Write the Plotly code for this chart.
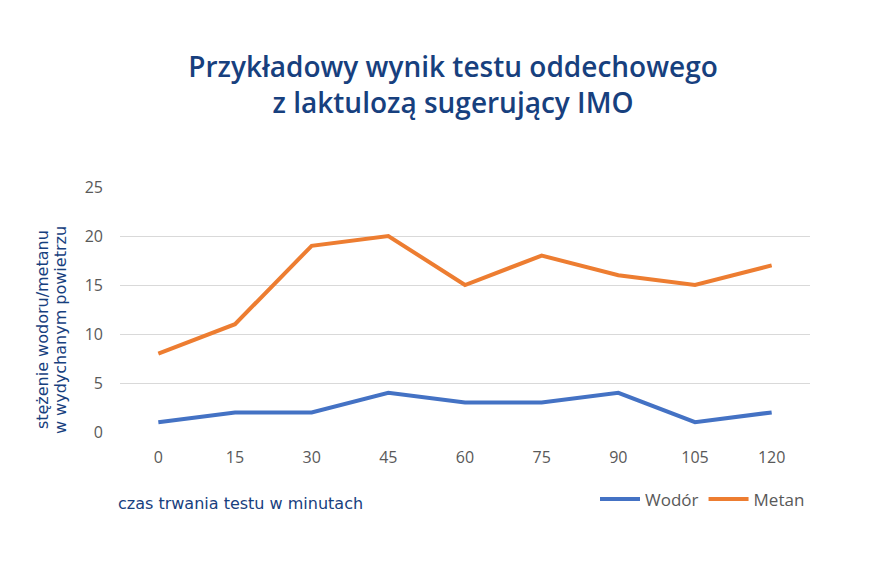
import plotly.graph_objects as go

minutes = [0, 15, 30, 45, 60, 75, 90, 105, 120]
wodor = [1, 2, 2, 4, 3, 3, 4, 1, 2]
metan = [8, 11, 19, 20, 15, 18, 16, 15, 17]
y_ticks = [0, 5, 10, 15, 20, 25]

navy = "#17407e"
fig = go.Figure()
fig.add_trace(go.Scatter(x=minutes, y=wodor, mode="lines", name="Wodór",
                         line=dict(color="#4472C4", width=4)))
fig.add_trace(go.Scatter(x=minutes, y=metan, mode="lines", name="Metan",
                         line=dict(color="#ED7D31", width=4)))

fig.update_layout(
    width=890, height=572,
    paper_bgcolor="white", plot_bgcolor="white",
    margin=dict(l=112, r=88, t=179, b=148, autoexpand=False),
    title=dict(text="Przykładowy wynik testu oddechowego<br>z laktulozą sugerujący IMO",
               x=0.5, xanchor="center", y=0.88, yanchor="top",
               font=dict(family="Open Sans", size=28, color=navy, weight=600)),
    font=dict(family="Open Sans", color="#595959", size=14),
    xaxis=dict(range=[-7.5, 127.5], tickvals=minutes, showgrid=False, zeroline=False,
               showline=False, ticks="", tickfont=dict(color="#595959", size=16),
               ticklabelstandoff=14, automargin=False),
    yaxis=dict(range=[0, 25], tickvals=y_ticks, showgrid=True, gridcolor="#d9d9d9",
               gridwidth=1, zeroline=False, ticks="", ticklabelstandoff=16,
               tickfont=dict(color="#595959", size=16), automargin=False),
    legend=dict(orientation="h", x=1.0, xanchor="right", y=-0.275, yanchor="middle",
                font=dict(size=17, color="#595959"), itemwidth=40),
    showlegend=True,
    annotations=[
        dict(text="stężenie wodoru/metanu", textangle=-90,
             xref="paper", yref="paper", x=-0.113, y=0.416, xanchor="center", yanchor="middle",
             showarrow=False, font=dict(family="DejaVu Sans", size=16, color=navy)),
        dict(text="w wydychanym powietrzu", textangle=-90,
             xref="paper", yref="paper", x=-0.087, y=0.416, xanchor="center", yanchor="middle",
             showarrow=False, font=dict(family="DejaVu Sans", size=16, color=navy)),
        dict(text="czas trwania testu w minutach", xref="paper", yref="paper",
             x=-0.006, y=-0.29, xanchor="left", yanchor="middle", showarrow=False,
             font=dict(family="DejaVu Sans", size=16, color=navy)),
    ],
)
fig.write_html("out.html")
